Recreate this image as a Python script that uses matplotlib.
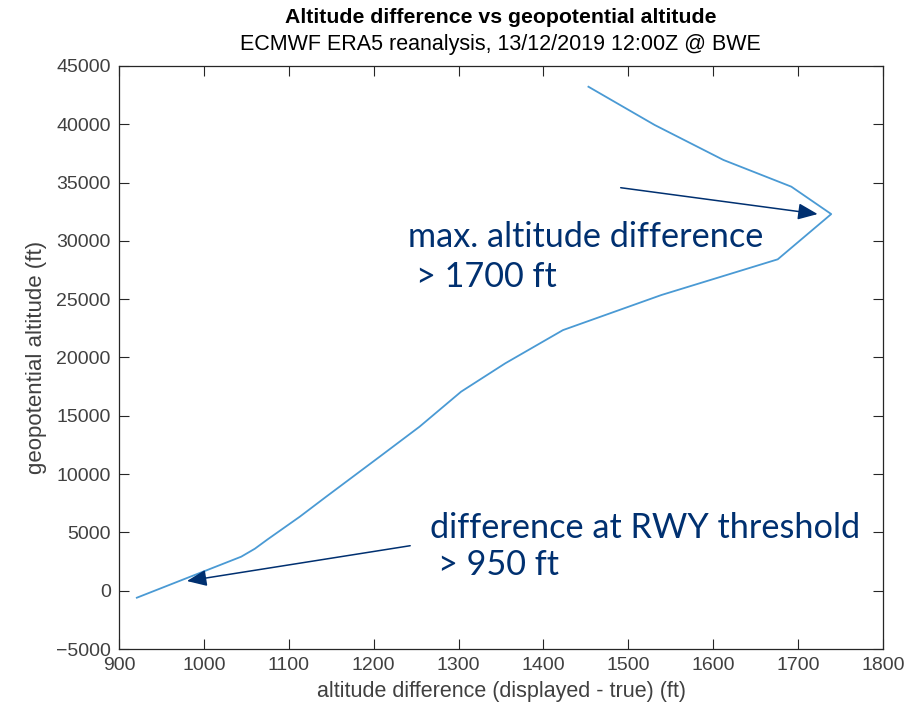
import matplotlib.pyplot as plt

# Altitude difference (displayed - true) vs geopotential altitude
alt_diff = [921, 1044, 1060, 1075, 1113, 1144, 1207, 1254, 1303, 1355, 1423,
            1539, 1676, 1739, 1692, 1612, 1531, 1453]
geo_alt = [-600, 2920, 3600, 4400, 6350, 8060, 11490, 14065, 17070, 19500, 22350,
           25360, 28420, 32300, 34650, 36940, 39940, 43220]

x_ticks = list(range(900, 1801, 100))
y_ticks = list(range(-5000, 45001, 5000))

axis_gray = "#262626"
navy = "#003070"

plt.rcParams["font.family"] = ["Liberation Sans", "DejaVu Sans"]

fig = plt.figure(figsize=(9.14, 7.14), dpi=100)
ax = fig.add_axes([0.1302, 0.0910, 0.8359, 0.8166])

ax.plot(alt_diff, geo_alt, color="#4a9ad4", linewidth=1.3)

ax.set_xlim(900, 1800)
ax.set_ylim(-5000, 45000)
ax.set_xticks(x_ticks)
ax.set_yticks(y_ticks)
ax.tick_params(direction="in", length=7, width=0.8, top=True, right=True,
               colors=axis_gray, labelsize=14, labelcolor="#404040", pad=6)
for s in ax.spines.values():
    s.set_color(axis_gray)
    s.set_linewidth(0.9)

ax.set_xlabel("altitude difference (displayed - true) (ft)", fontsize=15.5, color="#404040", labelpad=5)
ax.set_ylabel("geopotential altitude (ft)", fontsize=16, color="#404040", labelpad=6)

fig.text(0.548, 0.976, "Altitude difference vs geopotential altitude", ha="center", va="center",
         fontsize=15.3, fontweight="bold", color="black")
fig.text(0.548, 0.937, "ECMWF ERA5 reanalysis, 13/12/2019 12:00Z @ BWE", ha="center", va="center",
         fontsize=15.5, color="black")

# Annotations
arrow_kw = dict(arrowstyle="-|>,head_length=1.2,head_width=0.5", color=navy, lw=1.1,
                shrinkA=0, shrinkB=0)
ax.annotate("", xy=(1723, 32300), xytext=(1491, 34560), arrowprops=arrow_kw)
ax.annotate("", xy=(980, 830), xytext=(1243, 3860), arrowprops=arrow_kw)

txt_kw = dict(color=navy, fontsize=24.7, family=["Lato", "DejaVu Sans"], va="baseline", ha="left")
ax.text(1240, 29480, "max. altitude difference", **txt_kw)
ax.text(1250, 26050, "> 1700 ft", **txt_kw)
ax.text(1266, 4520, "difference at RWY threshold", **txt_kw)
ax.text(1276, 1350, "> 950 ft", **txt_kw)

fig.savefig("out.png", dpi=100)
